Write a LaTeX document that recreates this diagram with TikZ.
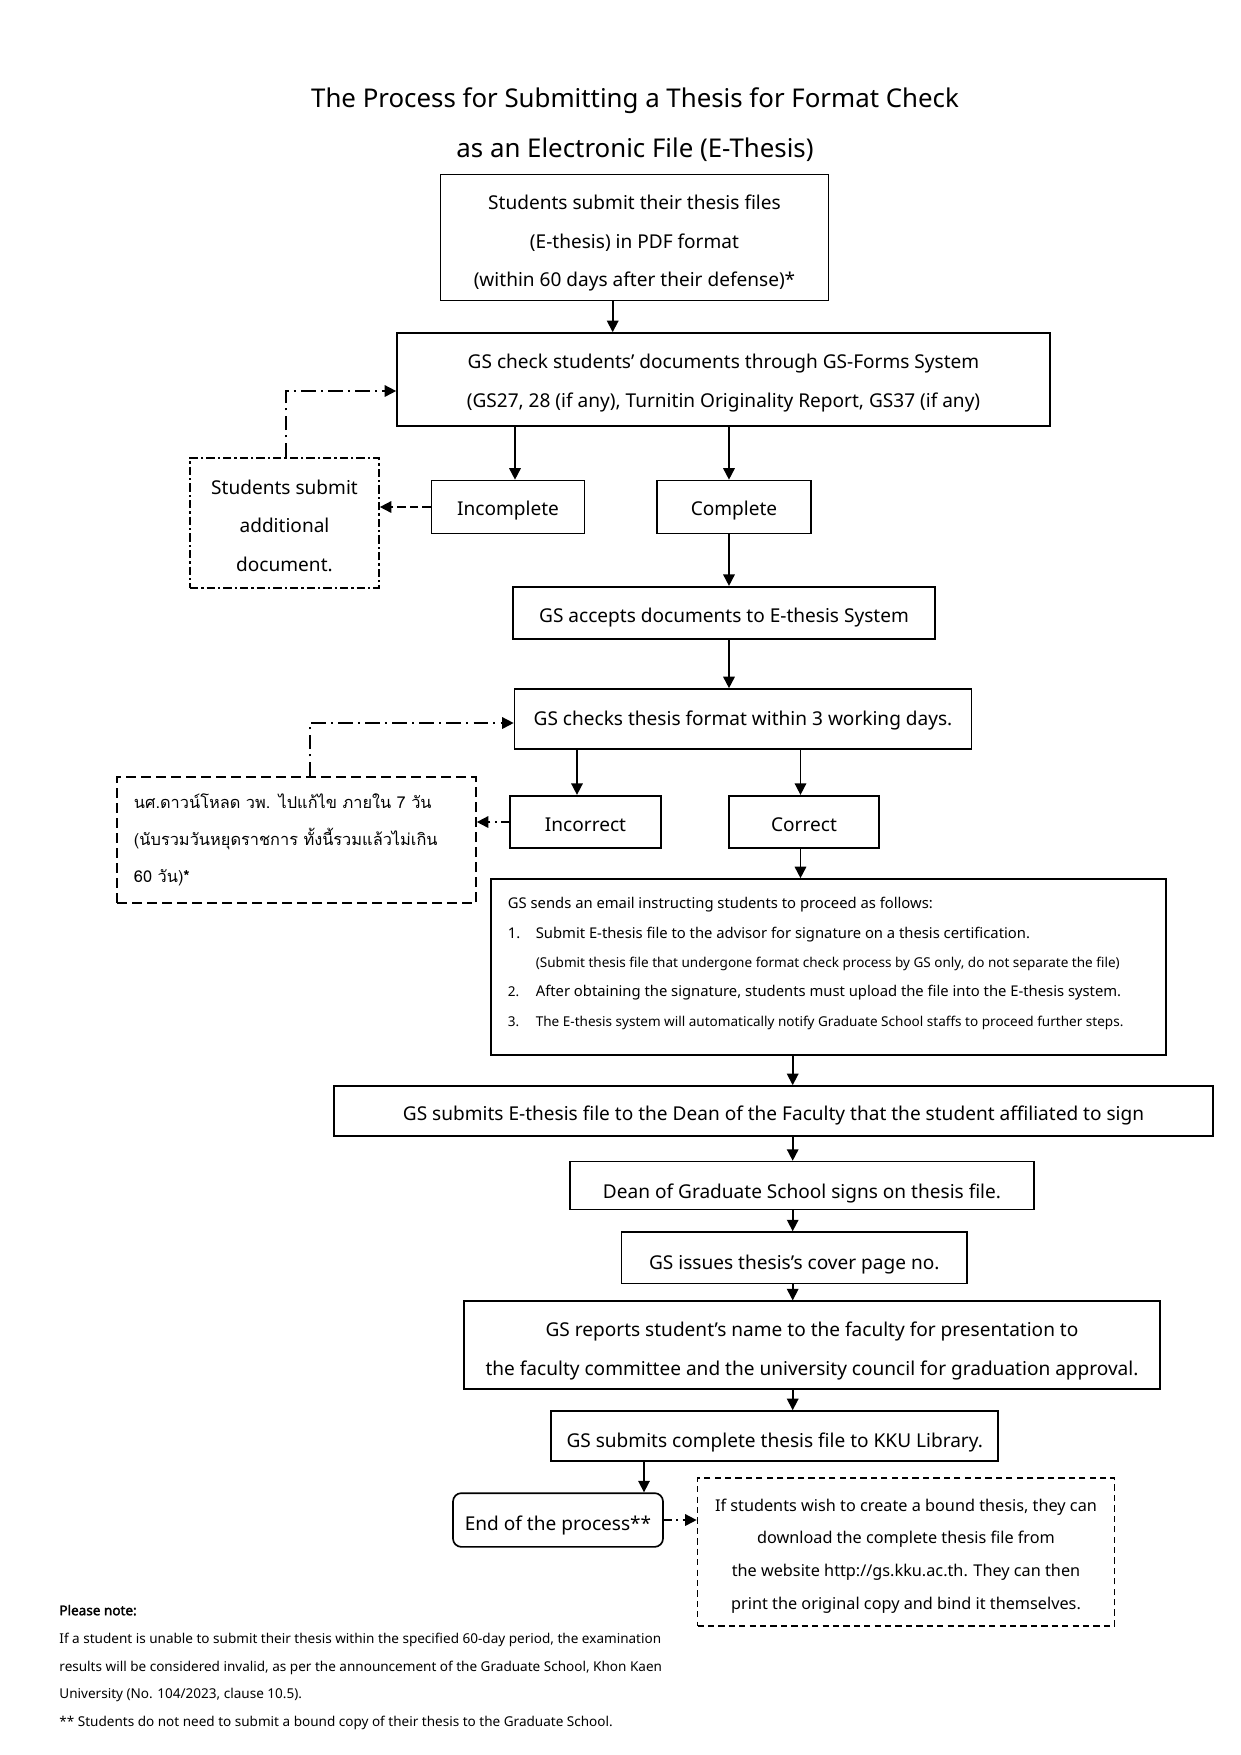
\documentclass[tikz,border=0pt]{standalone}
\usepackage{fontspec}
\setmainfont{Noto Sans}
\newfontfamily\notebf{Noto Sans}[FakeBold=2]
\newfontfamily\thaifont[Script=Thai]{Loma}
\usetikzlibrary{arrows.meta,calc}
\newcommand{\fmain}{\fontsize{9.15}{18.6}\selectfont}
\newcommand{\ftitle}{\fontsize{12.4}{15}\selectfont}
\newcommand{\femail}{\fontsize{7.1}{14.1}\selectfont}
\newcommand{\femailsm}{\fontsize{6.5}{14.1}\selectfont}
\newcommand{\fnote}{\fontsize{6.5}{13.4}\selectfont}
\newcommand{\ffin}{\fontsize{7.8}{15.7}\selectfont}
\newcommand{\fthai}{\thaifont\fontsize{7.85}{17.7}\selectfont}
\newcommand{\lowr}[1]{\rule{0pt}{#1}}
\begin{document}
\begin{tikzpicture}[x=0.48pt,y=-0.48pt,
  box/.style={draw, line width=0.8pt, inner sep=0pt, align=center, font=\fmain},
  lower/.style={execute at begin node={\rule{0pt}{#1}}},
  sz/.style 2 args={minimum width=#1*0.48pt, minimum height=#2*0.48pt},
  arr/.style={-{Triangle[length=5.5pt,width=5.5pt]}, line width=0.8pt},
  ddline/.style={dash pattern=on 7pt off 2.5pt on 1pt off 2.5pt},
  ddbox/.style={dash pattern=on 4pt off 1.5pt on 1pt off 1.5pt},
  dashbox/.style={dash pattern=on 4.8pt off 2.4pt},
  findash/.style={dash pattern=on 3pt off 2pt},
  shortdd/.style={dash pattern=on 4pt off 2pt on 1pt off 2pt}]
\useasboundingbox (0,0) rectangle (1241,1755);
\fill[white] (0,0) rectangle (1241,1755);

% title
\node[font=\ftitle] (t1) at (635,101) {The Process for Submitting a Thesis for Format Check};
\node[font=\ftitle] (t2) at (635,150) {as an Electronic File (E-Thesis)};

% boxes
\node[box, sz={388}{126}] (b1) at (634.5,237.6) {\lowr{12.4pt}Students submit their thesis files\\(E-thesis) in PDF format\\(within 60 days after their defense)*};
\node[box, sz={653}{93}] (b2) at (723.5,379.5) {\lowr{10.2pt}GS check students’ documents through GS-Forms System\\(GS27, 28 (if any), Turnitin Originality Report, GS37 (if any)};
\node[box, lower=10.2pt, sz={153}{53}] (inc) at (508,507) {Incomplete};
\node[box, lower=10.2pt, sz={154}{53}] (comp) at (734,507) {Complete};
\node[box, ddbox, sz={189}{130}] (sad) at (284.5,523) {\lowr{9.7pt}Students submit\\additional\\document.};
\node[box, lower=11.3pt, sz={422}{52.5}] (acc) at (724,613) {GS accepts documents to E-thesis System};
\node[box, lower=8.1pt, sz={457}{60}] (chk) at (743,719) {GS checks thesis format within 3 working days.};
\node[box, lower=9.1pt, sz={151}{52.6}] (incor) at (585.5,822) {Incorrect};
\node[box, lower=9.1pt, sz={150}{52.6}] (cor) at (804,822) {Correct};
\node[box, dashbox, sz={359}{126}, align=left, text width=156pt, inner xsep=8pt, font=\fthai] (thai) at (296.5,840)
  {นศ.ดาวน์โหลด วพ. ไปแก้ไข ภายใน 7 วัน\\(นับรวมวันหยุดราชการ ทั้งนี้รวมแล้วไม่เกิน\\60 วัน)\textbf{*}};
\node[box, sz={675}{176}] (email) at (828.5,967) {};
\node[anchor=west, align=left, inner sep=0pt, font=\femail] (emailtxt) at (507.5,963.5)
  {GS sends an email instructing students to proceed as follows:\\
   \makebox[13.4pt][l]{1.}Submit E-thesis file to the advisor for signature on a thesis certification.\\
   \hspace*{13.4pt}{\femailsm (Submit thesis file that undergone format check process by GS only, do not separate the file)}\\
   {\femailsm\makebox[13.4pt][l]{2.}}After obtaining the signature, students must upload the file into the E-thesis system.\\
   {\femailsm\makebox[13.4pt][l]{3.}The E-thesis system will automatically notify Graduate School staffs to proceed further steps.}};
\node[box, lower=11.3pt, sz={879}{50}] (sube) at (773.5,1111) {GS submits E-thesis file to the Dean of the Faculty that the student affiliated to sign};
\node[box, lower=14.5pt, sz={464}{48}] (dean) at (802,1185.6) {Dean of Graduate School signs on thesis file.};
\node[box, lower=13.4pt, sz={345.5}{51.5}] (iss) at (794.3,1257.8) {GS issues thesis’s cover page no.};
\node[box, sz={696.5}{87.6}] (rep) at (812,1345) {\lowr{12.4pt}GS reports student’s name to the faculty for presentation to\\the faculty committee and the university council for graduation approval.};
\node[box, lower=13.4pt, sz={447}{50}] (lib) at (774.7,1436) {GS submits complete thesis file to KKU Library.};
\node[box, lower=12.4pt, rounded corners=4pt, sz={210}{53.7}] (fin) at (558,1520) {End of the process**};
\node[box, findash, sz={417}{147.6}, font=\ffin] (bound) at (906,1552)
  {\lowr{9.7pt}If students wish to create a bound thesis, they can\\download the complete thesis file from\\the website http://gs.kku.ac.th. They can then\\print the original copy and bind it themselves.};

% notes
\node[anchor=west, align=left, inner sep=0pt, font=\fnote] (notes) at (59,1667.5)
  {{\notebf Please note:}\\
   If a student is unable to submit their thesis within the specified 60-day period, the examination\\
   results will be considered invalid, as per the announcement of the Graduate School, Khon Kaen\\
   University (No. 104/2023, clause 10.5).\\
   ** Students do not need to submit a bound copy of their thesis to the Graduate School.};

% connector x positions
\coordinate (xa) at (612.7,0);
\coordinate (xb) at (515,0);
\coordinate (xc) at (729,0);
\coordinate (xd) at (577,0);
\coordinate (xe) at (800.5,0);
\coordinate (xf) at (792.7,0);
\coordinate (xg) at (644,0);
\coordinate (k1) at (286,391);
\coordinate (k2) at (310,723);

\draw[arr] (b1.south -| xa) -- (b2.north -| xa);
\draw[arr] (b2.south -| xb) -- (inc.north -| xb);
\draw[arr] (b2.south -| xc) -- (comp.north -| xc);
\draw[arr, dash pattern=on 4pt off 2pt] (inc.west) -- (inc.west -| sad.east);
\draw[arr, ddline] (sad.north -| k1) |- (b2.west |- k1);
\draw[arr] (comp.south -| xc) -- (acc.north -| xc);
\draw[arr] (acc.south -| xc) -- (chk.north -| xc);
\draw[arr] (chk.south -| xd) -- (incor.north -| xd);
\draw[arr] (chk.south -| xe) -- (cor.north -| xe);
\draw[arr, shortdd] (incor.west) -- (incor.west -| thai.east);
\draw[arr, ddline] (thai.north -| k2) |- (chk.west |- k2);
\draw[arr] (cor.south -| xe) -- (email.north -| xe);
\draw[arr] (email.south -| xf) -- (sube.north -| xf);
\draw[arr] (sube.south -| xf) -- (dean.north -| xf);
\draw[arr] (dean.south -| xf) -- (iss.north -| xf);
\draw[arr] (iss.south -| xf) -- (rep.north -| xf);
\draw[arr] (rep.south -| xf) -- (lib.north -| xf);
\draw[arr] (lib.south -| xg) -- (fin.north -| xg);
\draw[arr, shortdd] (fin.east) -- (fin.east -| bound.west);
\end{tikzpicture}
\end{document}
